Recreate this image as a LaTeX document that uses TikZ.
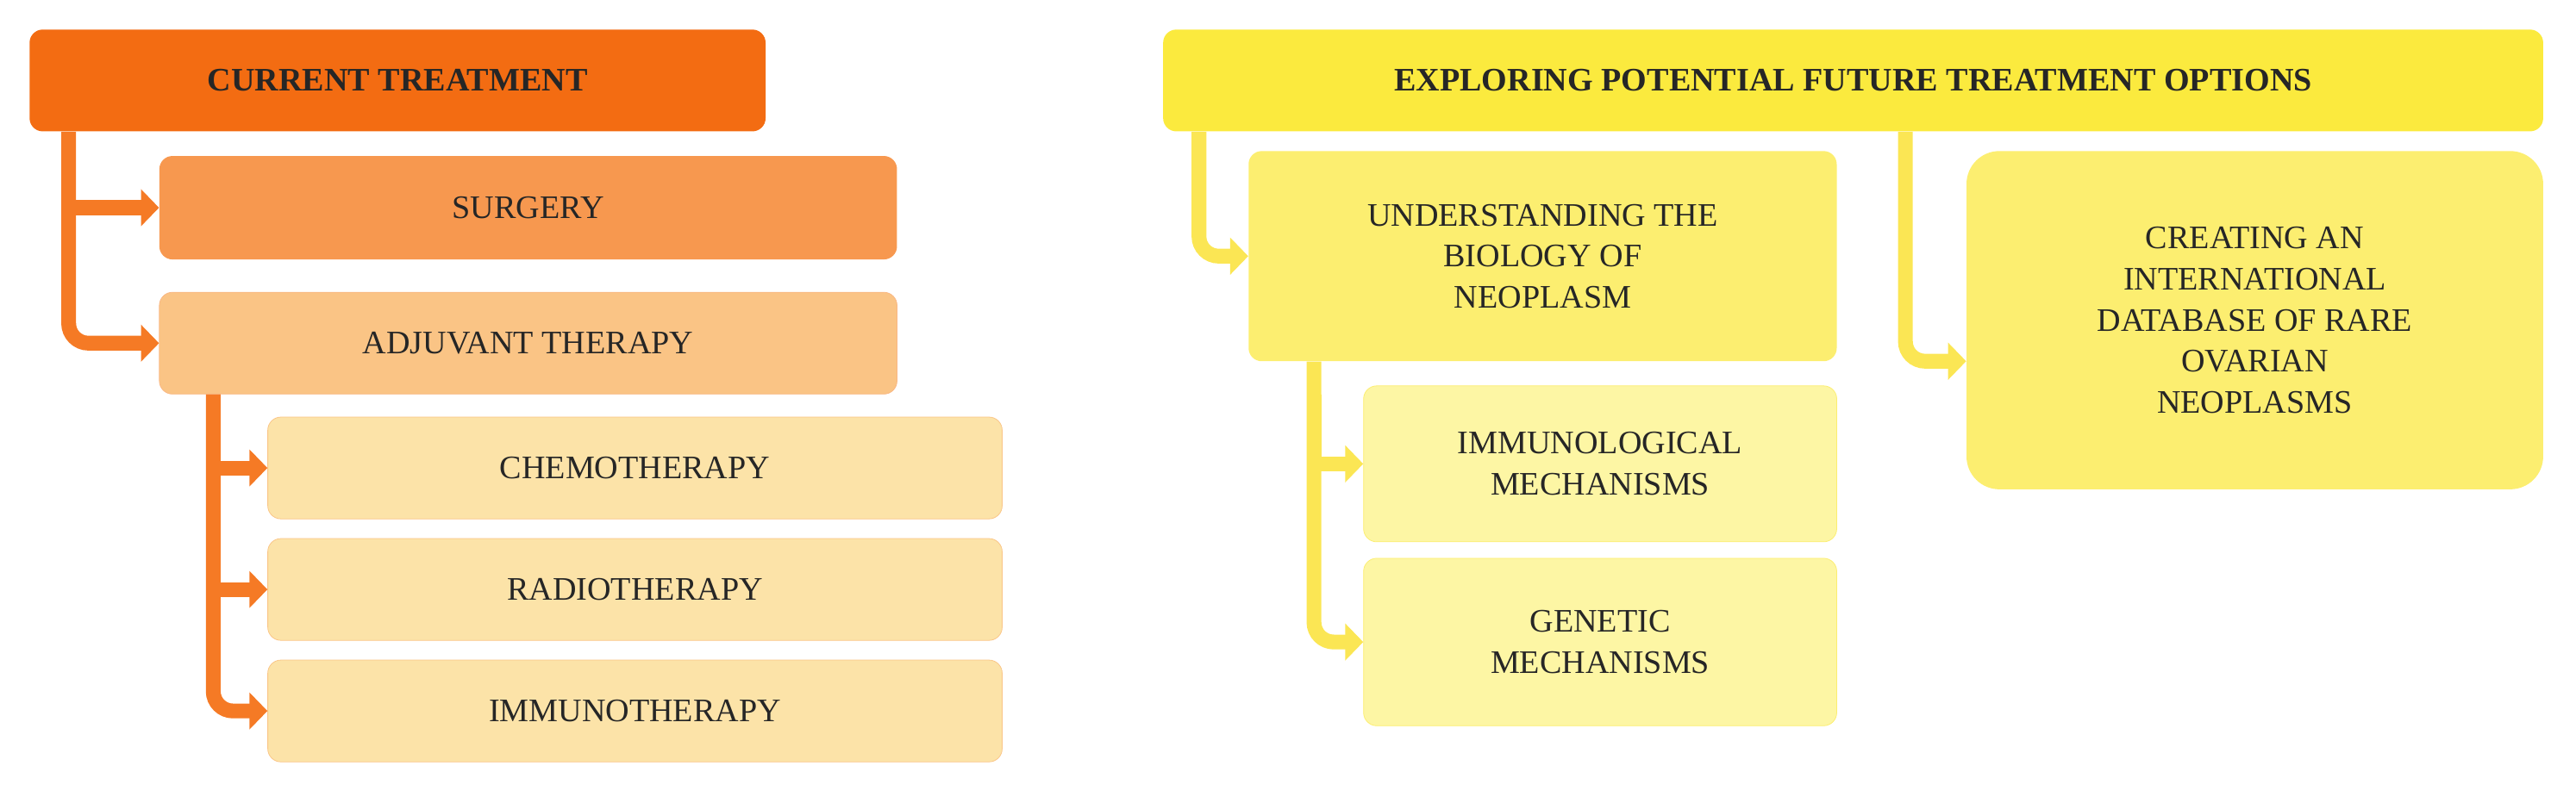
\documentclass[tikz,border=0pt]{standalone}
\usepackage{fontspec}
\setmainfont{Liberation Serif}
\usetikzlibrary{arrows.meta}
\definecolor{orgdark}{HTML}{F36C12}
\definecolor{orgmid}{HTML}{F7984F}
\definecolor{orglight}{HTML}{FAC485}
\definecolor{orgpale}{HTML}{FCE3A8}
\definecolor{orgline}{HTML}{F57A25}
\definecolor{ylwdark}{HTML}{FBEA3E}
\definecolor{ylwmid}{HTML}{FCEE70}
\definecolor{ylwpale}{HTML}{FDF6A4}
\definecolor{ylwline}{HTML}{FBE654}
\tikzset{
  box/.style={rectangle, rounded corners=8pt, align=center, inner sep=0pt,
    font=\fontsize{20}{25}\selectfont, text=black!85},
  head/.style={box, font=\fontsize{20}{25}\selectfont\bfseries},
  link/.style={line width=9pt, rounded corners=12pt,
    -{Triangle[width=22pt,length=11pt]}},
}
\begin{document}
\begin{tikzpicture}[x=1pt,y=-1pt]
  \useasboundingbox (0,0) rectangle (1568,485);
  % current treatment
  \node [head, fill=orgdark, minimum width=448, minimum height=62] (cur) at (242,49) {CURRENT TREATMENT};
  \node [box, fill=orgmid, minimum width=449, minimum height=63] (surg) at (321.5,126.5) {SURGERY};
  \node [box, fill=orglight, draw=orgmid!70, minimum width=449, minimum height=62] (adj) at (321.5,209) {ADJUVANT THERAPY};
  \node [box, fill=orgpale, draw=orglight, minimum width=447, minimum height=62] (chemo) at (386.5,285) {CHEMOTHERAPY};
  \node [box, fill=orgpale, draw=orglight, minimum width=447, minimum height=62] (radio) at (386.5,359) {RADIOTHERAPY};
  \node [box, fill=orgpale, draw=orglight, minimum width=447, minimum height=62] (immuno) at (386.5,433) {IMMUNOTHERAPY};

  \draw [link, draw=orgline] ([xshift=24pt]cur.south west) |- (adj.west);
  \draw [link, draw=orgline, rounded corners=0pt] ([xshift=24pt,yshift=-30pt]cur.south west) |- (surg.west);
  \draw [link, draw=orgline] ([xshift=33pt]adj.south west) |- (immuno.west);
  \draw [link, draw=orgline, rounded corners=0pt] ([xshift=33pt,yshift=-20pt]adj.south west) |- (chemo.west);
  \draw [link, draw=orgline, rounded corners=0pt] ([xshift=33pt,yshift=-80pt]adj.south west) |- (radio.west);

  % future options
  \node [head, fill=ylwdark, minimum width=840, minimum height=62] (future) at (1128,49) {EXPLORING POTENTIAL FUTURE TREATMENT OPTIONS};
  \node [box, fill=ylwmid, minimum width=358, minimum height=128] (bio) at (939,156) {UNDERSTANDING THE\\BIOLOGY OF\\NEOPLASM};
  \node [box, fill=ylwmid, minimum width=351, minimum height=206, rounded corners=20pt] (data) at (1372.5,195) {CREATING AN\\INTERNATIONAL\\DATABASE OF RARE\\OVARIAN\\NEOPLASMS};
  \node [box, fill=ylwpale, draw=ylwmid, minimum width=288, minimum height=95] (immech) at (974,282.5) {IMMUNOLOGICAL\\MECHANISMS};
  \node [box, fill=ylwpale, draw=ylwmid, minimum width=288, minimum height=102] (genmech) at (974,391) {GENETIC\\MECHANISMS};

  \draw [link, draw=ylwline] ([xshift=22pt]future.south west) |- (bio.west);
  \draw [link, draw=ylwline] ([xshift=452pt]future.south west) |- ([yshift=-25pt]data.west);
  \draw [link, draw=ylwline] ([xshift=40pt]bio.south west) |- (genmech.west);
  \draw [link, draw=ylwline, rounded corners=0pt] ([xshift=40pt,yshift=-20pt]bio.south west) |- (immech.west);
\end{tikzpicture}
\end{document}
